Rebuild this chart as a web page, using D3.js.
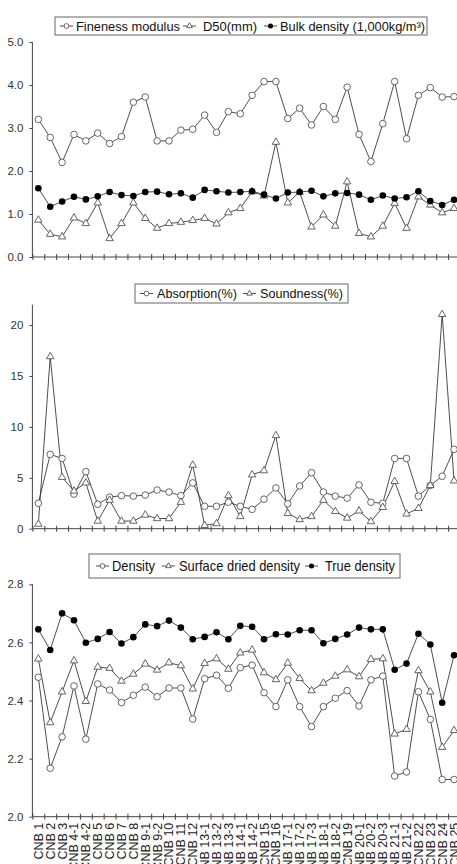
<!DOCTYPE html>
<html>
<head>
<meta charset="utf-8">
<script src="https://cdn.jsdelivr.net/npm/d3@7"></script>
<style>
  body { margin: 0; background: #fff; }
  svg { display: block; font-family: "Liberation Sans", Arial, sans-serif; }
</style>
</head>
<body>
<div id="chart"></div>
<script>
// sample names
var samples = ["CNB 1", "CNB 2", "CNB 3", "CNB 4-1", "CNB 4-2", "CNB 5", "CNB 6", "CNB 7", "CNB 8",
    "CNB 9-1", "CNB 9-2", "CNB 10", "CNB 11", "CNB 12", "CNB 13-1", "CNB 13-2", "CNB 13-3",
    "CNB 14-1", "CNB 14-2", "CNB 15", "CNB 16", "CNB 17-1", "CNB 17-2", "CNB 17-3", "CNB 18-1",
    "CNB 18-2", "CNB 19", "CNB 20-1", "CNB 20-2", "CNB 20-3", "CNB 21-1", "CNB 21-2", "CNB 22",
    "CNB 23", "CNB 24", "CNB 25"];

// panel 1
var finenessModulus = [3.2, 2.78, 2.2, 2.85, 2.7, 2.88, 2.64, 2.8, 3.6, 3.72, 2.7, 2.7, 2.95, 2.97,
    3.3, 2.9, 3.38, 3.33, 3.76, 4.08, 4.08, 3.22, 3.46, 3.07, 3.5, 3.2, 3.95, 2.85, 2.22, 3.1,
    4.08, 2.75, 3.76, 3.94, 3.72, 3.73];
var d50 = [0.86, 0.53, 0.47, 0.91, 0.78, 1.26, 0.43, 0.78, 1.26, 0.9, 0.67, 0.78, 0.81, 0.85,
    0.9, 0.77, 1.03, 1.13, 1.52, 1.42, 2.67, 1.26, 1.51, 0.7, 0.98, 0.72, 1.75, 0.55, 0.47, 0.72,
    1.25, 0.67, 1.4, 1.21, 1.03, 1.13];
var bulkDensity = [1.6, 1.17, 1.29, 1.4, 1.34, 1.41, 1.51, 1.44, 1.42, 1.51, 1.52, 1.46, 1.48, 1.38,
    1.56, 1.53, 1.5, 1.51, 1.53, 1.45, 1.36, 1.5, 1.51, 1.54, 1.41, 1.48, 1.49, 1.45, 1.33, 1.43,
    1.36, 1.39, 1.53, 1.3, 1.21, 1.33];
var ticks1 = [0, 1, 2, 3, 4, 5];

// panel 2
var absorption = [2.5, 7.3, 6.9, 3.4, 5.6, 2.4, 3.1, 3.25, 3.2, 3.3, 3.8, 3.6, 3.25, 4.5, 2.2, 2.2,
    2.6, 2.2, 1.9, 2.9, 4.0, 2.45, 4.2, 5.5, 3.6, 3.2, 3.0, 4.3, 2.6, 2.5, 6.9, 6.9, 3.2, 4.25,
    5.15, 7.8];
var soundness = [0.45, 16.9, 5.05, 3.7, 4.5, 0.75, 2.8, 0.75, 0.75, 1.35, 1.0, 1.0, 2.6, 6.25, 0.33,
    0.5, 3.25, 1.2, 5.3, 5.7, 9.15, 1.5, 0.9, 1.2, 2.8, 1.7, 1.05, 1.75, 0.7, 2.1, 4.65, 1.45,
    2.0, 4.25, 21.05, 4.7];
var ticks2 = [0, 5, 10, 15, 20];

// panel 3
var density = [2.48, 2.167, 2.275, 2.45, 2.267, 2.457, 2.436, 2.393, 2.418, 2.446, 2.413, 2.443,
    2.443, 2.336, 2.475, 2.487, 2.442, 2.513, 2.522, 2.427, 2.379, 2.471, 2.379, 2.31, 2.379,
    2.408, 2.434, 2.381, 2.471, 2.484, 2.14, 2.154, 2.43, 2.335, 2.128, 2.128];
var surfaceDried = [2.543, 2.324, 2.43, 2.537, 2.397, 2.515, 2.511, 2.467, 2.491, 2.526, 2.505,
    2.53, 2.52, 2.44, 2.528, 2.544, 2.508, 2.564, 2.574, 2.496, 2.472, 2.529, 2.476, 2.434, 2.46,
    2.484, 2.506, 2.482, 2.542, 2.544, 2.285, 2.301, 2.503, 2.43, 2.239, 2.297];
var trueDensity = [2.645, 2.574, 2.7, 2.676, 2.599, 2.612, 2.636, 2.596, 2.618, 2.662, 2.656,
    2.675, 2.651, 2.611, 2.619, 2.635, 2.611, 2.657, 2.654, 2.611, 2.628, 2.627, 2.642, 2.642,
    2.597, 2.612, 2.627, 2.651, 2.645, 2.645, 2.506, 2.527, 2.63, 2.593, 2.392, 2.556];
var ticks3 = [2.0, 2.2, 2.4, 2.6, 2.8];

var width = 457, height = 864;
var left = 32.4, right = 460;

var svg = d3.select("#chart").append("svg")
    .attr("width", width)
    .attr("height", height);

var x = d3.scaleBand().domain(samples).range([left, right]);
var xEdge = d3.scaleLinear().domain([0, samples.length]).range([left, right]);

var lineColor = "#3a3a3a";
var markColor = "#555";

function marker(g, type, cx, cy, small) {
    if (type == "circle") {
        g.append("circle").attr("cx", cx).attr("cy", cy).attr("r", small ? 2.4 : 3.3)
            .attr("fill", "#fff").attr("stroke", markColor).attr("stroke-width", 0.9);
    } else if (type == "dot") {
        g.append("circle").attr("cx", cx).attr("cy", cy).attr("r", small ? 2.5 : 3.3)
            .attr("fill", "#000");
    } else {
        g.append("path").attr("transform", "translate(" + cx + "," + cy + ")")
            .attr("d", d3.symbol(d3.symbolTriangle, small ? 14 : 24)())
            .attr("fill", "#fff").attr("stroke", markColor).attr("stroke-width", 0.9);
    }
}

function drawPanel(p) {
    var y = d3.scaleLinear().domain(p.domain).range([p.bottom, p.top]);
    var g = svg.append("g");

    // y axis
    var yAxis = d3.axisLeft(y).tickValues(p.ticks).tickSize(3).tickPadding(6)
        .tickFormat(p.format);
    var ya = g.append("g").attr("transform", "translate(" + left + ",0)").call(yAxis);
    ya.select(".domain").attr("d", "M0," + p.top + "V" + p.bottom).attr("stroke", "#444");
    ya.selectAll(".tick line").attr("stroke", "#444");
    ya.selectAll(".tick text").attr("font-size", 11.5).attr("fill", "#333")
        .attr("font-family", "Liberation Sans, Arial, sans-serif");

    // x axis: crossing ticks on band edges
    var xa = g.append("g").attr("transform", "translate(0," + p.bottom + ")")
        .call(d3.axisBottom(xEdge).tickValues(d3.range(samples.length + 1))
            .tickSize(3).tickFormat(""));
    xa.select(".domain").attr("d", "M" + left + ",0H" + right).attr("stroke", "#444");
    xa.selectAll(".tick line").attr("y1", -3).attr("stroke", "#444");

    if (p.labels) {
        var xl = g.append("g").attr("transform", "translate(0," + p.bottom + ")")
            .call(d3.axisBottom(x).tickSize(0).tickPadding(0));
        xl.select(".domain").remove();
        xl.selectAll(".tick text")
            .attr("transform", "rotate(-90)")
            .attr("text-anchor", "end")
            .attr("x", -6)
            .attr("y", 0)
            .attr("dy", "0.36em")
            .attr("font-size", 12.5)
            .attr("fill", "#222")
            .attr("font-family", "Liberation Sans, Arial, sans-serif");
    }

    // series
    p.series.forEach(function(s) {
        var line = d3.line()
            .x(function(d, i) { return x(samples[i]) + x.bandwidth() / 2; })
            .y(function(d) { return y(d); });
        g.append("path").datum(s.values)
            .attr("d", line)
            .attr("fill", "none")
            .attr("stroke", lineColor)
            .attr("stroke-width", 0.9);
    });
    p.series.forEach(function(s) {
        var mg = g.append("g");
        s.values.forEach(function(v, i) {
            marker(mg, s.type, x(samples[i]) + x.bandwidth() / 2, y(v), false);
        });
    });

    // legend
    var L = p.legend;
    var lg = g.append("g");
    lg.append("rect").attr("x", L.x).attr("y", L.y)
        .attr("width", L.w).attr("height", L.h)
        .attr("fill", "#fff").attr("stroke", "#666").attr("stroke-width", 1);
    var cy = L.y + L.h / 2;
    p.series.forEach(function(s, i) {
        var mx = L.items[i];
        lg.append("line").attr("x1", mx).attr("x2", mx + 13).attr("y1", cy).attr("y2", cy)
            .attr("stroke", lineColor).attr("stroke-width", 0.9);
        marker(lg, s.type, mx + 6.5, cy, true);
        lg.append("text").attr("x", L.tx[i]).attr("y", cy).attr("dy", "0.36em")
            .attr("font-size", L.fs).attr("fill", "#111")
            .attr("textLength", L.lens[i]).attr("lengthAdjust", "spacingAndGlyphs")
            .text(s.name);
    });
}

drawPanel({
    top: 42, bottom: 257, domain: [0, 5], ticks: ticks1, format: d3.format(".1f"),
    series: [
        { name: "Fineness modulus", values: finenessModulus, type: "circle" },
        { name: "D50(mm)", values: d50, type: "tri" },
        { name: "Bulk density (1,000kg/m³)", values: bulkDensity, type: "dot" }
    ],
    legend: { x: 55, y: 17, w: 372, h: 18, fs: 13, items: [60, 183, 264],
        tx: [76, 203, 280], lens: [104, 54, 145] }
});

drawPanel({
    top: 304.7, bottom: 528.7, domain: [0, 22], ticks: ticks2, format: d3.format("d"),
    series: [
        { name: "Absorption(%)", values: absorption, type: "circle" },
        { name: "Soundness(%)", values: soundness, type: "tri" }
    ],
    legend: { x: 135, y: 284, w: 213, h: 19, fs: 13, items: [140, 243],
        tx: [157, 260], lens: [80, 83] }
});

drawPanel({
    top: 584.3, bottom: 816.7, domain: [2.0, 2.8], ticks: ticks3, format: d3.format(".1f"),
    labels: true,
    series: [
        { name: "Density", values: density, type: "circle" },
        { name: "Surface dried density", values: surfaceDried, type: "tri" },
        { name: "True density", values: trueDensity, type: "dot" }
    ],
    legend: { x: 89, y: 554, w: 311, h: 24, fs: 15, items: [96, 162, 305],
        tx: [112, 179, 325], lens: [43, 121, 70] }
});
</script>
</body>
</html>
